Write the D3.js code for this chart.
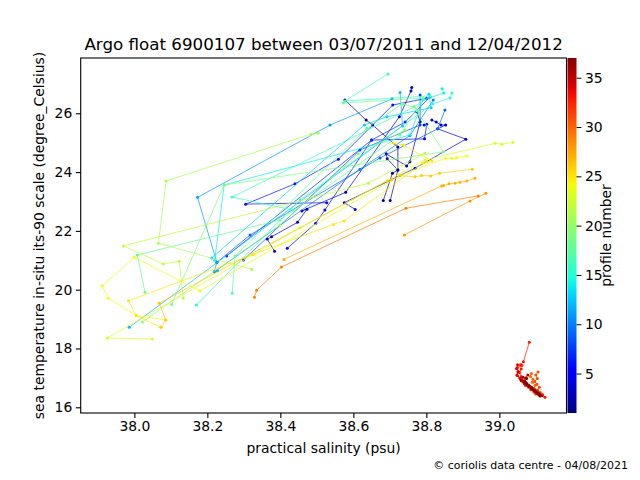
<!DOCTYPE html>
<html>
<head>
<meta charset="utf-8">
<script src="https://cdn.jsdelivr.net/npm/d3@7"></script>
<style>
  body { margin: 0; background: #fff; }
  text { font-family: "DejaVu Sans", sans-serif; fill: #000; }
</style>
</head>
<body>
<svg id="chart" width="640" height="480"></svg>
<script>
// Profiles: [salinity, temperature] points, one array per profile number
const p01 = [[38.577,26.45],[38.635,25.77],[38.653,25.60],[38.722,24.85],[38.722,24.07],[38.707,23.96],[38.682,23.03]];
const p02 = [[38.774,26.05],[38.783,25.71],[38.755,24.35],[38.746,24.21],[38.690,24.62],[38.693,24.45],[38.722,24.07],[38.701,23.03]];
const p03 = [[38.760,26.88],[38.758,26.76],[38.726,25.88],[38.579,23.31],[38.459,22.68],[38.473,22.74],[38.447,22.29],[38.376,21.80],[38.364,21.72],[38.384,21.31]];
const p04 = [[38.815,25.77],[38.827,25.70],[38.840,25.60],[38.853,25.60],[38.831,25.47],[38.908,25.12],[38.769,24.13],[38.575,22.96],[38.605,22.73]];
const p05 = [[38.794,25.60],[38.801,25.63],[38.795,25.13],[38.650,25.09],[38.522,22.71],[38.497,22.26],[38.419,21.41]];
const p06 = [[38.801,26.51],[38.708,26.28],[38.559,24.44],[38.440,23.60],[38.305,22.91],[38.527,22.96]];
const p07 = [[38.810,26.55],[38.742,25.70],[38.650,25.09],[38.253,21.15]];
const p08 = [[38.783,26.62],[38.783,25.60],[38.618,24.75],[38.299,21.01]];
const p09 = [[38.851,26.11],[38.831,25.47],[38.673,24.48],[38.317,21.86],[38.226,20.93]];
const p10 = [[38.819,26.45],[38.755,25.24],[38.618,24.10],[38.219,20.61]];
const p11 = [[38.706,26.49],[38.536,25.60],[38.173,23.14],[38.226,20.93],[38.219,20.61],[38.228,20.64]];
const p12 = [[38.728,26.71],[38.735,25.57],[37.986,18.72]];
const p13 = [[38.807,26.65],[38.813,26.19],[38.692,25.88],[38.630,25.60],[38.212,21.08]];
const p14 = [[38.843,26.83],[38.848,26.69],[38.791,26.45],[38.755,25.26],[38.246,23.56],[38.220,21.00]];
const p15 = [[38.870,26.69],[38.865,26.52],[38.818,26.32],[38.454,23.05],[38.170,19.48]];
const p16 = [[38.695,27.34],[38.577,26.42],[38.810,26.59],[38.766,26.21],[38.268,23.15],[38.435,22.71]];
const p17 = [[38.733,26.32],[38.637,25.49],[38.276,21.15],[38.268,19.88]];
const p18 = [[38.572,26.35],[38.791,26.52],[38.728,25.26],[38.399,22.37],[38.008,21.18],[38.029,19.91]];
const p19 = [[38.734,26.31],[38.767,26.22],[38.775,26.08],[38.847,24.69],[38.246,23.56],[38.102,19.50]];
const p20 = [[38.742,25.43],[38.614,24.62],[38.399,22.20],[38.022,18.90]];
const p21 = [[38.504,25.32],[38.484,25.29],[38.087,23.70],[38.066,21.58],[38.322,20.69]];
const p22 = [[38.796,24.64],[38.641,23.62],[37.970,21.49],[38.079,20.87],[38.123,20.97],[38.134,19.71]];
const p23 = [[39.037,25.01],[39.007,24.95],[38.988,24.98],[38.796,24.41],[38.454,22.10],[37.926,18.36],[38.049,18.32]];
const p24 = [[38.911,24.55],[38.883,24.49],[38.870,24.47],[38.853,24.47],[38.728,23.88],[38.180,19.96],[38.000,21.10],[37.912,20.13],[37.929,19.71],[38.005,19.12],[38.086,18.97]];
const p25 = [[38.710,24.98],[38.737,24.92],[38.815,24.38],[38.801,24.35],[38.790,24.30],[38.575,22.34],[38.545,22.22],[38.326,21.20],[37.984,19.62],[38.005,19.12],[38.073,18.72]];
const p26 = [[38.926,24.10],[38.836,23.96],[38.812,23.87],[38.787,23.88],[38.769,23.84],[38.728,23.88],[38.705,23.73],[38.693,23.70],[38.068,19.54],[38.086,18.97],[38.073,18.72]];
const p27 = [[38.933,23.79],[38.911,23.70],[38.892,23.65],[38.879,23.62],[38.862,23.60],[38.847,23.54],[38.842,23.53],[38.410,21.03]];
const p28 = [[38.963,23.28],[38.920,23.02],[38.740,21.86]];
const p29 = [[38.942,23.19],[38.744,22.77],[38.403,20.77],[38.335,19.98],[38.329,19.74]];
const p30 = [[39.088,17.15],[39.085,17.05],[39.092,16.95],[39.090,16.85],[39.098,16.75],[39.095,16.65],[39.103,16.55],[39.100,16.48]];
const p31 = [[39.106,17.20],[39.100,17.10],[39.104,16.98],[39.097,16.88],[39.103,16.78],[39.110,16.68],[39.105,16.58],[39.112,16.50],[39.118,16.44]];
const p32 = [[39.062,17.42],[39.050,17.35],[39.052,17.22],[39.048,17.10],[39.056,17.00],[39.060,16.90],[39.068,16.82],[39.072,16.74],[39.080,16.68],[39.086,16.60],[39.095,16.52],[39.100,16.45]];
const p33 = [[39.082,18.21],[39.066,17.55],[39.058,17.45],[39.060,17.30],[39.055,17.18],[39.060,17.05],[39.062,16.92],[39.072,16.85],[39.078,16.75],[39.085,16.70],[39.092,16.62],[39.100,16.55],[39.110,16.45],[39.118,16.40],[39.125,16.34]];
const p34 = [[39.050,17.45],[39.047,17.32],[39.051,17.20],[39.049,17.08],[39.057,16.98],[39.064,16.88],[39.070,16.78],[39.080,16.72],[39.090,16.66],[39.098,16.58],[39.106,16.48],[39.112,16.40]];
const p35 = [[39.078,17.10],[39.072,17.00],[39.066,16.90],[39.074,16.82],[39.080,16.76],[39.088,16.68],[39.096,16.60],[39.104,16.52],[39.110,16.46],[39.116,16.40]];
const p36 = [[39.065,17.02],[39.060,16.92],[39.068,16.84],[39.076,16.76],[39.084,16.70],[39.090,16.62],[39.098,16.56],[39.104,16.48],[39.108,16.42]];
const p37 = [[39.075,16.98],[39.070,16.88],[39.075,16.80],[39.082,16.72],[39.088,16.65],[39.094,16.58],[39.100,16.52],[39.108,16.46],[39.112,16.38]];

const profiles = [p01,p02,p03,p04,p05,p06,p07,p08,p09,p10,p11,p12,p13,p14,p15,p16,p17,p18,p19,
  p20,p21,p22,p23,p24,p25,p26,p27,p28,p29,p30,p31,p32,p33,p34,p35,p36,p37];
const profileNumbers = profiles.map((d, i) => i + 1);

const xTicks = [38.0, 38.2, 38.4, 38.6, 38.8, 39.0];
const yTicks = [16, 18, 20, 22, 24, 26];
const cbTicks = [5, 10, 15, 20, 25, 30, 35];

// Layout
const M_LEFT = 80.7, M_RIGHT = 566.5, M_TOP = 58, M_BOTTOM = 413;
const CB_LEFT = 567.5, CB_WIDTH = 9;

const svg = d3.select("#chart");

const x = d3.scaleLinear().domain([37.853, 39.184]).range([M_LEFT, M_RIGHT]);
const y = d3.scaleLinear().domain([15.806, 27.88]).range([M_BOTTOM, M_TOP]);

// jet colormap, same breakpoints as matplotlib
const jetR = d3.scaleLinear().domain([0, 0.35, 0.66, 0.89, 1]).range([0, 0, 1, 1, 0.5]).clamp(true);
const jetG = d3.scaleLinear().domain([0, 0.125, 0.375, 0.64, 0.91, 1]).range([0, 0, 1, 1, 0, 0]).clamp(true);
const jetB = d3.scaleLinear().domain([0, 0.11, 0.34, 0.65, 1]).range([0.5, 1, 1, 0, 0]).clamp(true);
const norm = d3.scaleLinear().domain([1, 37]).range([0, 1]);
const jet = (v) => {
  const t = norm(v);
  return d3.rgb(jetR(t) * 255, jetG(t) * 255, jetB(t) * 255).formatHex();
};

const line = d3.line().x((d) => x(d[0])).y((d) => y(d[1]));

// Profiles
const plot = svg.append("g");
profiles.forEach((pts, i) => {
  const col = jet(profileNumbers[i]);
  plot.append("path")
    .attr("d", line(pts))
    .attr("fill", "none")
    .attr("stroke", col)
    .attr("stroke-width", 0.7);
  plot.selectAll(null)
    .data(pts)
    .enter()
    .append("circle")
    .attr("cx", (d) => x(d[0]))
    .attr("cy", (d) => y(d[1]))
    .attr("r", 1.5)
    .attr("fill", col);
});

// Frame
svg.append("rect")
  .attr("x", M_LEFT).attr("y", M_TOP)
  .attr("width", M_RIGHT - M_LEFT).attr("height", M_BOTTOM - M_TOP)
  .attr("fill", "none").attr("stroke", "#000").attr("stroke-width", 1.1);

// Axes
const xAxis = svg.append("g")
  .attr("transform", `translate(0,${M_BOTTOM})`)
  .call(d3.axisBottom(x).tickValues(xTicks).tickFormat(d3.format(".1f")).tickSize(4.9).tickPadding(3.5).tickSizeOuter(0));
const yAxis = svg.append("g")
  .attr("transform", `translate(${M_LEFT},0)`)
  .call(d3.axisLeft(y).tickValues(yTicks).tickFormat(d3.format("d")).tickSize(4.9).tickPadding(3.5).tickSizeOuter(0));
[xAxis, yAxis].forEach((g) => {
  g.select(".domain").remove();
  g.selectAll("text").style("font-size", "13.9px").style("font-family", "DejaVu Sans");
  g.selectAll("line").attr("stroke-width", 1.1);
});

// Colorbar
const cb = d3.scaleLinear().domain([1, 37]).range([M_BOTTOM, M_TOP]);
const defs = svg.append("defs");
const grad = defs.append("linearGradient")
  .attr("id", "jetgrad")
  .attr("x1", 0).attr("y1", 1).attr("x2", 0).attr("y2", 0);
grad.selectAll("stop")
  .data(d3.range(0, 1.0001, 0.02))
  .enter()
  .append("stop")
  .attr("offset", (d) => d)
  .attr("stop-color", (d) => jet(norm.invert(d)));
svg.append("rect")
  .attr("x", CB_LEFT).attr("y", M_TOP)
  .attr("width", CB_WIDTH).attr("height", M_BOTTOM - M_TOP)
  .attr("fill", "url(#jetgrad)");
const cbAxis = svg.append("g")
  .attr("transform", `translate(${CB_LEFT + CB_WIDTH},0)`)
  .call(d3.axisRight(cb).tickValues(cbTicks).tickSize(4.9).tickPadding(3.5).tickSizeOuter(0));
cbAxis.select(".domain").remove();
cbAxis.selectAll("text").style("font-size", "13.9px").style("font-family", "DejaVu Sans");

// Titles and labels
svg.append("text")
  .attr("x", (M_LEFT + M_RIGHT) / 2).attr("y", 50)
  .attr("text-anchor", "middle")
  .style("font-size", "16.7px")
  .text("Argo float 6900107 between 03/07/2011 and 12/04/2012");

svg.append("text")
  .attr("x", (M_LEFT + M_RIGHT) / 2).attr("y", 453)
  .attr("text-anchor", "middle")
  .style("font-size", "13.9px")
  .text("practical salinity (psu)");

svg.append("text")
  .attr("transform", `translate(44,${(M_TOP + M_BOTTOM) / 2}) rotate(-90)`)
  .attr("text-anchor", "middle")
  .style("font-size", "13.9px")
  .text("sea temperature in-situ its-90 scale (degree_Celsius)");

svg.append("text")
  .attr("transform", `translate(611,${(M_TOP + M_BOTTOM) / 2}) rotate(-90)`)
  .attr("text-anchor", "middle")
  .style("font-size", "13.9px")
  .text("profile number");

svg.append("text")
  .attr("x", 628).attr("y", 469)
  .attr("text-anchor", "end")
  .style("font-size", "11px")
  .text("© coriolis data centre - 04/08/2021");
</script>
</body>
</html>
